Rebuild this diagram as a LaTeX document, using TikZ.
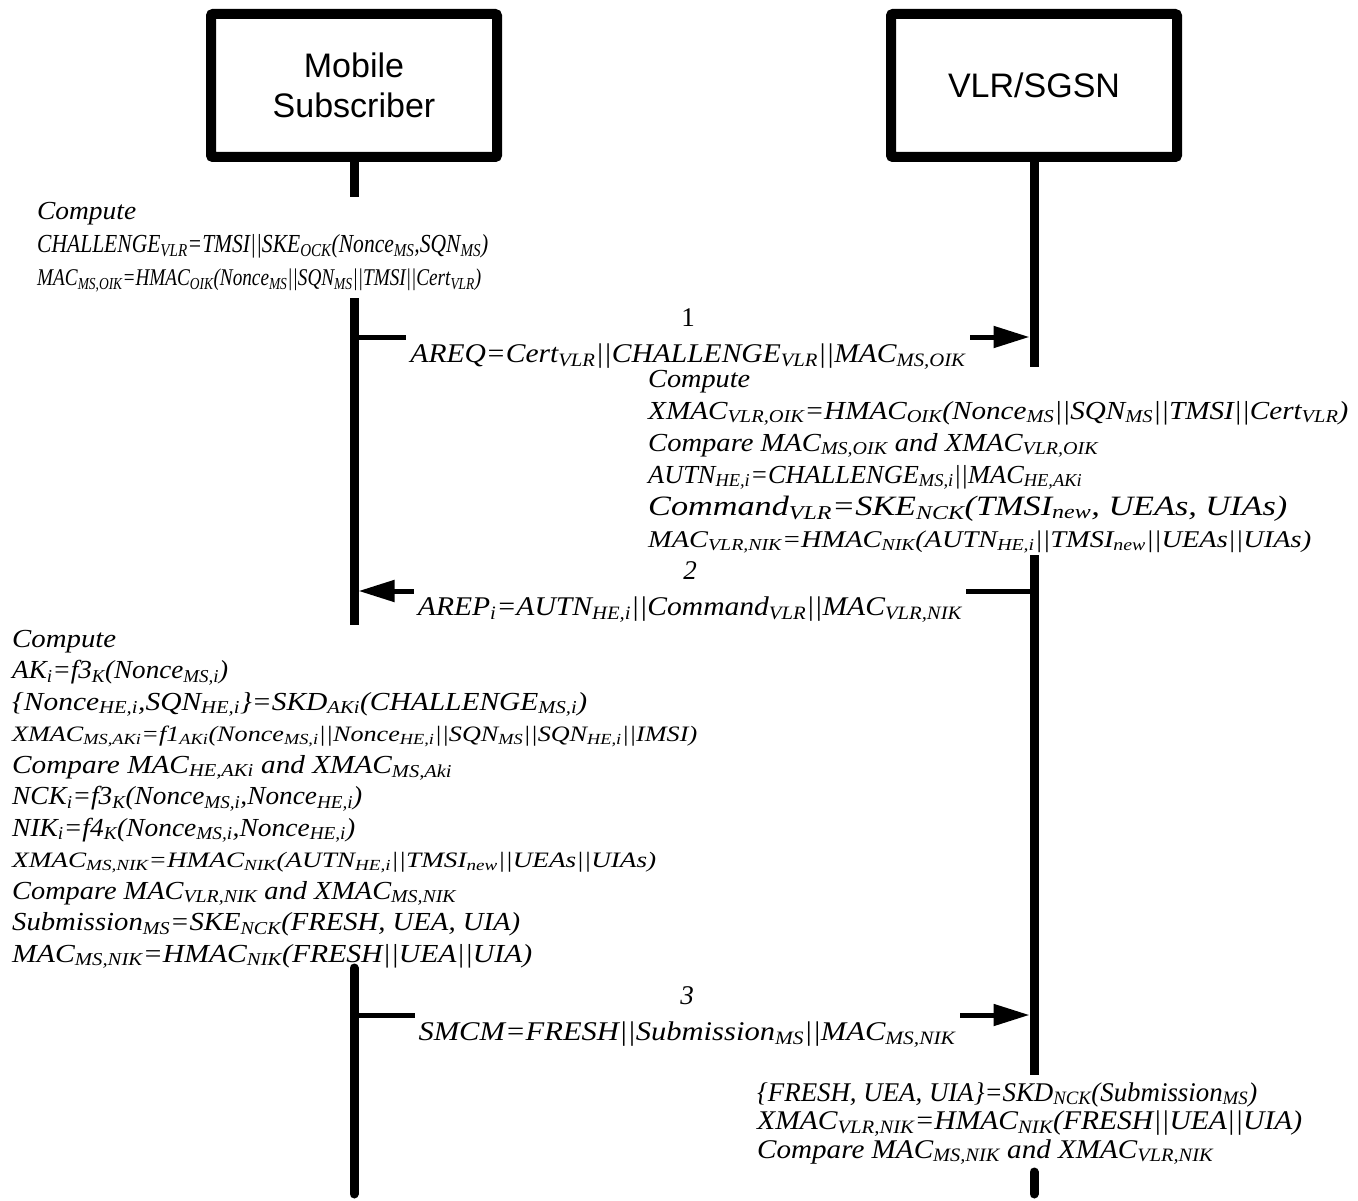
\documentclass[tikz,border=0pt]{standalone}
\usepackage{fontspec}
\usepackage{graphicx}
\setmainfont{Liberation Serif}
\newfontfamily\boxfont{Liberation Sans}
\usetikzlibrary{arrows.meta}
\newcommand\sbs[1]{\textsubscript{#1}}
\newcommand\fitw[2]{\resizebox{#1pt}{\height}{#2}}
\tikzset{
  actor/.style={draw, line width=10pt, rounded corners=2pt, minimum width=286pt,
    minimum height=143pt, align=center, font=\boxfont\fontsize{34}{40}\selectfont},
  life/.style={line width=9pt},
  lifeend/.style={line width=9pt, line cap=round},
  msg/.style={line width=5pt, -{Triangle[length=36pt,width=21pt]}, shorten >=4.5pt},
  lbl/.style={fill=white, inner xsep=4pt, inner ysep=0pt, align=center,
    font=\itshape\fontsize{27}{36}\selectfont},
  txt/.style={anchor=base west, inner sep=0pt, font=\itshape\fontsize{26}{30}\selectfont},
  txtl/.style={anchor=base west, inner sep=0pt, font=\itshape\fontsize{28}{30}\selectfont},
  txtm/.style={anchor=base west, inner sep=0pt, font=\itshape\fontsize{24}{30}\selectfont},
  txts/.style={anchor=base west, inner sep=0pt, font=\itshape\fontsize{22}{30}\selectfont},
  txtb/.style={anchor=base west, inner sep=0pt, font=\itshape\fontsize{27}{30}\selectfont},
}
\begin{document}
\begin{tikzpicture}[x=1pt,y=-1pt]
\useasboundingbox (0,0) rectangle (1358,1201);
% actors
\node[actor] (ms) at (354,85.5) {Mobile\\Subscriber};
\node[actor] (vlr) at (1034,85.5) {VLR/SGSN};
% lifeline coordinates
\coordinate (lA) at (354,197);
\coordinate (lB1) at (354,298);
\coordinate (lB2) at (354,625);
\coordinate (lC1) at (354,968);
\coordinate (lC2) at (354,1194);
\coordinate (rA) at (1034,367);
\coordinate (rB1) at (1034,555);
\coordinate (rB2) at (1034,1075);
\coordinate (rC1) at (1034,1172);
\coordinate (rC2) at (1034,1194);
\draw[life] (ms.south) -- (lA);
\draw[life] (lB1) -- (lB2);
\draw[lifeend] (lC1) -- (lC2);
\draw[life] (vlr.south) -- (rA);
\draw[life] (rB1) -- (rB2);
\draw[lifeend] (rC1) -- (rC2);
% messages
\coordinate (m1s) at (354,337);
\coordinate (m1e) at (1034,337);
\coordinate (m2s) at (1034,591);
\coordinate (m2e) at (354,591);
\coordinate (m3s) at (354,1015);
\coordinate (m3e) at (1034,1015);
\draw[msg] (m1s) -- (m1e);
\draw[msg] (m2s) -- (m2e);
\draw[msg] (m3s) -- (m3e);
\node[lbl] (lab1) at (688,339) {{\upshape 1}\\\fitw{555}{AREQ=Cert\sbs{VLR}||CHALLENGE\sbs{VLR}||MAC\sbs{MS,OIK}}};
\node[lbl] (lab2) at (690,592) {2\\\fitw{544}{AREP\sbs{i}=AUTN\sbs{HE,i}||Command\sbs{VLR}||MAC\sbs{VLR,NIK}}};
\node[lbl] (lab3) at (687,1017) {3\\\fitw{537}{SMCM=FRESH||Submission\sbs{MS}||MAC\sbs{MS,NIK}}};
% top-left block
\node[txt] (a1) at (37,220) {\fitw{99}{Compute}};
\node[txt] (a2) at (37,253) {\fitw{451}{CHALLENGE\sbs{VLR}=TMSI||SKE\sbs{OCK}(Nonce\sbs{MS},SQN\sbs{MS})}};
\node[txtm] (a3) at (37,286) {\fitw{444}{MAC\sbs{MS,OIK}=HMAC\sbs{OIK}(Nonce\sbs{MS}||SQN\sbs{MS}||TMSI||Cert\sbs{VLR})}};
% right block
\node[txt] (b1) at (648,387) {\fitw{102}{Compute}};
\node[txt] (b2) at (648,419) {\fitw{700}{XMAC\sbs{VLR,OIK}=HMAC\sbs{OIK}(Nonce\sbs{MS}||SQN\sbs{MS}||TMSI||Cert\sbs{VLR})}};
\node[txt] (b3) at (648,451) {\fitw{450}{Compare MAC\sbs{MS,OIK} and XMAC\sbs{VLR,OIK}}};
\node[txt] (b4) at (648,483) {\fitw{434}{AUTN\sbs{HE,i}=CHALLENGE\sbs{MS,i}||MAC\sbs{HE,AKi}}};
\node[txtl] (b5) at (648,515) {\fitw{639}{Command\sbs{VLR}=SKE\sbs{NCK}(TMSI\sbs{new}, UEAs, UIAs)}};
\node[txtm] (b6) at (648,547) {\fitw{663}{MAC\sbs{VLR,NIK}=HMAC\sbs{NIK}(AUTN\sbs{HE,i}||TMSI\sbs{new}||UEAs||UIAs)}};
% left block
\node[txt] (c1) at (12,647) {\fitw{104}{Compute}};
\node[txt] (c2) at (12,678.5) {\fitw{216}{AK\sbs{i}=f3\sbs{K}(Nonce\sbs{MS,i})}};
\node[txt] (c3) at (12,710) {\fitw{575}{\{Nonce\sbs{HE,i},SQN\sbs{HE,i}\}=SKD\sbs{AKi}(CHALLENGE\sbs{MS,i})}};
\node[txts] (c4) at (12,741.5) {\fitw{685}{XMAC\sbs{MS,AKi}=f1\sbs{AKi}(Nonce\sbs{MS,i}||Nonce\sbs{HE,i}||SQN\sbs{MS}||SQN\sbs{HE,i}||IMSI)}};
\node[txt] (c5) at (12,773) {\fitw{440}{Compare MAC\sbs{HE,AKi} and XMAC\sbs{MS,Aki}}};
\node[txt] (c6) at (12,804.5) {\fitw{350}{NCK\sbs{i}=f3\sbs{K}(Nonce\sbs{MS,i},Nonce\sbs{HE,i})}};
\node[txt] (c7) at (12,836) {\fitw{343}{NIK\sbs{i}=f4\sbs{K}(Nonce\sbs{MS,i},Nonce\sbs{HE,i})}};
\node[txts] (c8) at (12,867.5) {\fitw{644}{XMAC\sbs{MS,NIK}=HMAC\sbs{NIK}(AUTN\sbs{HE,i}||TMSI\sbs{new}||UEAs||UIAs)}};
\node[txt] (c9) at (12,899) {\fitw{444}{Compare MAC\sbs{VLR,NIK} and XMAC\sbs{MS,NIK}}};
\node[txt] (c10) at (12,930.5) {\fitw{508}{Submission\sbs{MS}=SKE\sbs{NCK}(FRESH, UEA, UIA)}};
\node[txt] (c11) at (12,962) {\fitw{520}{MAC\sbs{MS,NIK}=HMAC\sbs{NIK}(FRESH||UEA||UIA)}};
% bottom-right block
\node[txtb] (d1) at (757,1101) {\fitw{500}{\{FRESH, UEA, UIA\}=SKD\sbs{NCK}(Submission\sbs{MS})}};
\node[txtb] (d2) at (757,1129.5) {\fitw{545}{XMAC\sbs{VLR,NIK}=HMAC\sbs{NIK}(FRESH||UEA||UIA)}};
\node[txtb] (d3) at (757,1158) {\fitw{456}{Compare MAC\sbs{MS,NIK} and XMAC\sbs{VLR,NIK}}};
\end{tikzpicture}
\end{document}
